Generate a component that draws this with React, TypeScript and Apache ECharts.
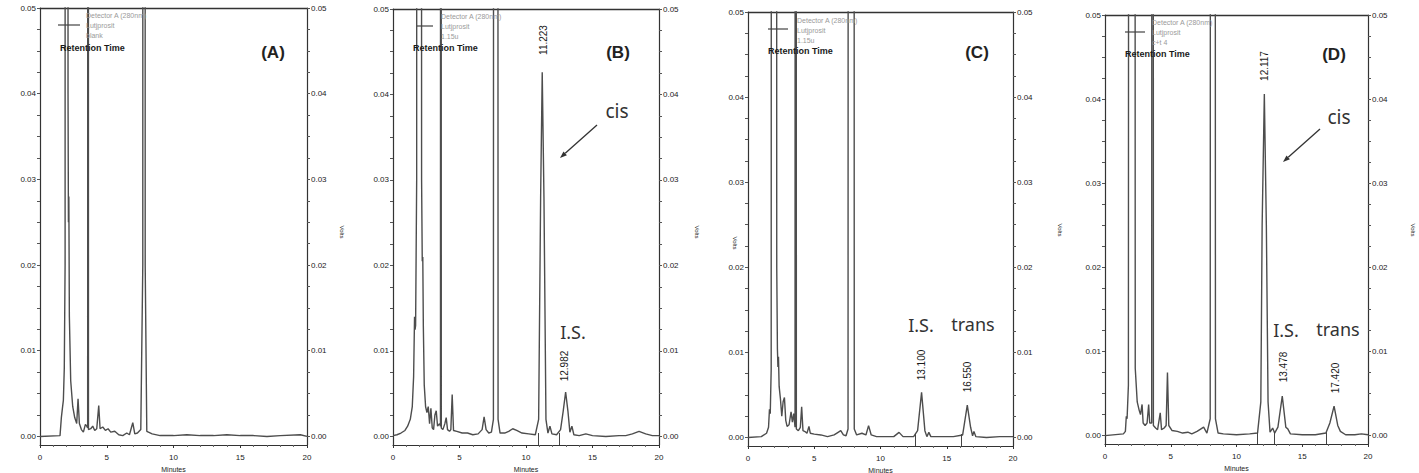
import React, { useEffect, useRef } from "react";
import * as echarts from "echarts";

// ---- axis ticks ----
const xTickStep = 5;
const yLabelValues = [0, 0.01, 0.02, 0.03, 0.04, 0.05];
const yTickValues = [
  0, 0.0025, 0.005, 0.0075, 0.01, 0.0125, 0.015, 0.0175, 0.02, 0.0225, 0.025,
  0.0275, 0.03, 0.0325, 0.035, 0.0375, 0.04, 0.0425, 0.045, 0.0475, 0.05,
];

// ---- chromatogram A (blank) ----
const timeA = [0, 1.5, 1.6, 1.68, 1.75, 1.82, 1.88, 1.9, 2.05, 2.1, 2.13, 2.16, 2.2, 2.3, 2.45, 2.6, 2.75, 2.85, 2.95, 3.1, 3.25, 3.4, 3.5, 3.57, 3.6, 3.63, 3.8, 3.95, 4.1, 4.25, 4.4, 4.5, 4.7, 4.9, 5.1, 5.3, 5.6, 5.9, 6.2, 6.5, 6.7, 6.95, 7.1, 7.3, 7.55, 7.7, 7.73, 7.85, 7.88, 8.0, 8.4, 9, 10, 11, 12, 13, 14, 15, 16, 17, 18, 19.5, 20];
const voltsA = [0, 0.0001, 0.0022, 0.0033, 0.0042, 0.008, 0.02, 0.5, 0.5, 0.04, 0.025, 0.028, 0.014, 0.0065, 0.0035, 0.0022, 0.0015, 0.0044, 0.0015, 0.0008, 0.0005, 0.0014, 0.0012, 0.001, 0.5, 0.0008, 0.0009, 0.0012, 0.0007, 0.0009, 0.0036, 0.0009, 0.0011, 0.0007, 0.0009, 0.0005, 0.0006, 0.0002, 0.0001, 0.0004, 0.0002, 0.0016, 0.0003, 0.0004, 0.0008, 0.02, 0.5, 0.5, 0.02, 0.0006, 0.0003, 0.0001, 0.0001, 0.0002, 0.0001, 0.0001, 0.0002, 0.0001, 0.0001, 0, 0.0001, 0.0002, 0];

// ---- chromatogram B ----
const timeB = [0, 0.3, 0.6, 0.9, 1.1, 1.3, 1.45, 1.55, 1.62, 1.66, 1.7, 1.78, 1.82, 2.08, 2.15, 2.2, 2.24, 2.28, 2.35, 2.45, 2.55, 2.65, 2.75, 2.85, 2.95, 3.05, 3.15, 3.25, 3.35, 3.5, 3.57, 3.6, 3.63, 3.75, 3.9, 4.0, 4.1, 4.25, 4.35, 4.45, 4.55, 4.8, 5.2, 5.6, 6.0, 6.4, 6.7, 6.85, 7.0, 7.2, 7.4, 7.55, 7.62, 7.82, 7.9, 8.05, 8.4, 8.7, 9.0, 9.3, 9.7, 10.2, 10.7, 10.95, 11.1, 11.22, 11.35, 11.5, 11.65, 11.8, 11.95, 12.3, 12.6, 12.8, 12.98, 13.15, 13.3, 13.45, 13.6, 14.0, 14.5, 15, 16, 17, 17.5, 18, 18.5, 19, 19.5, 20];
const voltsB = [0.0001, 0.0002, 0.0004, 0.0007, 0.0012, 0.002, 0.0035, 0.007, 0.014, 0.0125, 0.013, 0.03, 0.5, 0.5, 0.03, 0.0205, 0.021, 0.013, 0.006, 0.0035, 0.0028, 0.0035, 0.0015, 0.0033, 0.001, 0.0008, 0.0025, 0.003, 0.0012, 0.0015, 0.0012, 0.5, 0.001, 0.0008, 0.0015, 0.0022, 0.0008, 0.0006, 0.0008, 0.0049, 0.0007, 0.0006, 0.0004, 0.0004, 0.0002, 0.0003, 0.0008, 0.0023, 0.0008, 0.0004, 0.0005, 0.002, 0.5, 0.5, 0.002, 0.0004, 0.0004, 0.0006, 0.0009, 0.0007, 0.0004, 0.0003, 0.0002, 0.002, 0.028, 0.0426, 0.028, 0.002, 0.0004, 0.0012, 0.0003, 0.0002, 0.0008, 0.003, 0.0052, 0.003, 0.0005, 0.0012, 0.0002, 0.0001, 0.0003, 0.0001, 0, 0.0001, 0.0001, 0.0003, 0.0006, 0.0003, 0.0001, 0.0001];

// ---- chromatogram C ----
const timeC = [0, 1.0, 1.4, 1.55, 1.62, 1.68, 1.75, 1.82, 2.1, 2.17, 2.22, 2.26, 2.3, 2.35, 2.45, 2.55, 2.65, 2.75, 2.85, 2.95, 3.1, 3.25, 3.35, 3.45, 3.55, 3.6, 3.65, 3.8, 3.95, 4.05, 4.15, 4.3, 4.45, 4.6, 4.7, 5.0, 5.5, 6.0, 6.5, 6.8, 7.0, 7.2, 7.4, 7.55, 7.62, 7.95, 8.02, 8.2, 8.6, 8.9, 9.1, 9.3, 9.7, 10.5, 11.0, 11.4, 11.7, 12.5, 12.8, 13.1, 13.35, 13.5, 13.65, 13.8, 14.5, 15.5, 16.2, 16.55, 16.8, 16.95, 17.05, 17.2, 18, 19, 20];
const voltsC = [0, 0.0001, 0.0005, 0.0012, 0.0033, 0.0028, 0.008, 0.5, 0.5, 0.02, 0.0104, 0.0083, 0.0095, 0.006, 0.0045, 0.0025, 0.0042, 0.0047, 0.002, 0.0013, 0.0015, 0.003, 0.0018, 0.0028, 0.0012, 0.5, 0.001, 0.0008, 0.0012, 0.0036, 0.0008, 0.0007, 0.0005, 0.0013, 0.0005, 0.0004, 0.0003, 0.0001, 0.0003, 0.0006, 0.0008, 0.0003, 0.0002, 0.001, 0.5, 0.5, 0.001, 0.0003, 0.0005, 0.0003, 0.0014, 0.0003, 0.0001, 0.0001, 0.0001, 0.0006, 0.0001, 0.0001, 0.0008, 0.0053, 0.0008, 0.0001, 0.0006, 0.0001, 0.0001, 0.0001, 0.0003, 0.0038, 0.0012, 0.0002, 0.0007, 0.0001, 0, 0.0001, 0.0001];

// ---- chromatogram D ----
const timeD = [0, 1.4, 1.55, 1.62, 1.68, 1.78, 1.88, 2.2, 2.3, 2.45, 2.6, 2.7, 2.82, 2.9, 3.05, 3.2, 3.32, 3.4, 3.55, 3.63, 3.68, 3.85, 4.0, 4.2, 4.3, 4.5, 4.65, 4.75, 4.85, 5.1, 5.5, 5.9, 6.3, 6.6, 7.0, 7.3, 7.5, 7.75, 8.0, 8.1, 8.3, 8.4, 8.6, 9, 10, 11, 11.6, 11.85, 11.95, 12.117, 12.27, 12.4, 12.55, 12.75, 12.9, 13.15, 13.48, 13.75, 13.9, 14.1, 15, 16, 16.8, 17.1, 17.42, 17.7, 17.9, 18.3, 19.0, 19.5, 20];
const voltsD = [0, 0.0002, 0.0005, 0.0023, 0.002, 0.006, 0.5, 0.5, 0.008, 0.004, 0.003, 0.0025, 0.0037, 0.0015, 0.0012, 0.0015, 0.0037, 0.0015, 0.0015, 0.5, 0.0012, 0.0009, 0.0007, 0.0027, 0.0007, 0.0009, 0.0012, 0.0075, 0.0012, 0.0006, 0.0005, 0.0003, 0.0004, 0.0002, 0.0005, 0.0008, 0.001, 0.0003, 0.002, 0.5, 0.5, 0.002, 0.0003, 0.0002, 0.0001, 0.0002, 0.0003, 0.004, 0.025, 0.0406, 0.025, 0.004, 0.0004, 0.0009, 0.0003, 0.001, 0.0047, 0.001, 0.0008, 0.0002, 0.0001, 0.0001, 0.0003, 0.0015, 0.0035, 0.0012, 0.0005, 0.0001, 0.0001, 0.0002, 0.0001];

// ---- integration baseline markers (minutes) ----
const markersA: number[] = [];
const markersB = [10.9, 12.5];
const markersC = [12.6, 16.1];
const markersD = [11.6, 12.9, 16.8];

const panelTimes = [timeA, timeB, timeC, timeD];
const panelVolts = [voltsA, voltsB, voltsC, voltsD];
const panelMarkers = [markersA, markersB, markersC, markersD];
const panelNames = ["(A)", "(B)", "(C)", "(D)"];
const legendLines = [
  ["Detector A (280nm)", "Lutjprosit", "blank"],
  ["Detector A (280nm)", "Lutjprosit", "1.15u"],
  ["Detector A (280nm)", "Lutjprosit", "1.15u"],
  ["Detector A (280nm)", "Lutjprosit", "c+t 4"],
];
const peakLabelsB = ["11.223", "12.982"];
const peakLabelsC = ["13.100", "16.550"];
const peakLabelsD = ["12.117", "13.478", "17.420"];

// ---- layout (pixels) ----
const grids = [
  { left: 40, top: 8, width: 267, height: 437 },
  { left: 393, top: 9, width: 266, height: 436 },
  { left: 748, top: 12, width: 265, height: 434 },
  { left: 1105, top: 15, width: 263, height: 429 },
];
const legendPos = [
  { lx1: 58, lx2: 80, ly: 25, tx: 86, ty: 15, rx: 60, ry: 48, nx: 273, ny: 52, vx: 342, vy: 232 },
  { lx1: 417, lx2: 433, ly: 26, tx: 441, ty: 16, rx: 413, ry: 48, nx: 618, ny: 52, vx: 697, vy: 232 },
  { lx1: 768, lx2: 788, ly: 29, tx: 797, ty: 20, rx: 768, ry: 51, nx: 977, ny: 52, vx: 1060, vy: 230 },
  { lx1: 1125, lx2: 1145, ly: 32, tx: 1152, ty: 22, rx: 1125, ry: 54, nx: 1334, ny: 54, vx: 1413, vy: 230 },
];

const AXIS_COLOR = "#333";
const LINE_COLOR = "#4d4d4d";
const TXT = "#1a1a1a";
const FONT = "Liberation Sans, Arial, sans-serif";

function arrow(x1: number, y1: number, x2: number, y2: number): any[] {
  const dx = x2 - x1;
  const dy = y2 - y1;
  const len = Math.sqrt(dx * dx + dy * dy);
  const ux = dx / len;
  const uy = dy / len;
  const bx = x2 - ux * 7;
  const by = y2 - uy * 7;
  const px = -uy * 2.6;
  const py = ux * 2.6;
  return [
    { type: "line", shape: { x1, y1, x2: bx, y2: by }, style: { stroke: "#333", lineWidth: 1.4 }, z: 10 },
    {
      type: "polygon",
      shape: { points: [[x2, y2], [bx + px, by + py], [bx - px, by - py]] },
      style: { fill: "#333" },
      z: 10,
    },
  ];
}

function rotText(text: string, x: number, y: number, size = 10): any {
  return {
    type: "text",
    x,
    y,
    rotation: Math.PI / 2,
    style: { text, fill: TXT, fontSize: size, fontFamily: FONT, align: "center", verticalAlign: "middle" },
    z: 10,
  };
}

function bigText(text: string, x: number, y: number, size = 18): any {
  return {
    type: "text",
    x,
    y,
    style: { text, fill: "#333", fontSize: size, fontFamily: "Noto Sans, sans-serif", align: "center", verticalAlign: "middle" },
    z: 10,
  };
}

export default function App() {
  const ref = useRef<HTMLDivElement>(null);

  useEffect(() => {
    if (!ref.current) return;
    const chart = echarts.init(ref.current, null, { renderer: "svg" });

    const xAxes: any[] = [];
    const yAxes: any[] = [];
    const series: any[] = [];
    const gridOpts: any[] = [];

    grids.forEach((g, i) => {
      gridOpts.push({ ...g, containLabel: false, outerBoundsMode: "none" });
      xAxes.push({
        type: "value",
        gridIndex: i,
        position: "bottom",
        min: 0,
        max: 20,
        interval: xTickStep,
        axisLine: { show: true, onZero: false, lineStyle: { color: AXIS_COLOR, width: 1.2 } },
        axisTick: { show: true, length: 3, lineStyle: { color: AXIS_COLOR } },
        minorTick: { show: true, splitNumber: 5, length: 2, lineStyle: { color: "#666" } },
        axisLabel: { fontSize: 8, color: TXT, margin: 8, fontFamily: FONT },
        splitLine: { show: false },
        name: "Minutes",
        nameLocation: "middle",
        nameGap: 20,
        nameTextStyle: { fontSize: 7, color: TXT, fontFamily: FONT },
      });
      xAxes.push({
        type: "value",
        gridIndex: i,
        position: "top",
        min: 0,
        max: 20,
        axisLine: { show: true, onZero: false, lineStyle: { color: AXIS_COLOR, width: 1.4 } },
        axisTick: { show: false },
        axisLabel: { show: false },
        splitLine: { show: false },
      });
      const yBase = (pos: string) => ({
        type: "value",
        gridIndex: i,
        position: pos,
        min: -0.001,
        max: 0.05,
        axisLine: { show: true, onZero: false, lineStyle: { color: AXIS_COLOR, width: 1.2 } },
        axisTick: { show: true, length: 3, customValues: yTickValues, lineStyle: { color: "#555" } },
        axisLabel: {
          customValues: yLabelValues,
          formatter: (v: number) => v.toFixed(2),
          fontSize: 8,
          color: TXT,
          margin: 4,
          fontFamily: FONT,
        },
        splitLine: { show: false },
      });
      yAxes.push(yBase("left"));
      yAxes.push(yBase("right"));
      const t = panelTimes[i];
      const v = panelVolts[i];
      series.push({
        type: "line",
        xAxisIndex: 2 * i,
        yAxisIndex: 2 * i,
        data: t.map((x, k) => [x, v[k]]),
        showSymbol: false,
        symbol: "none",
        clip: true,
        lineStyle: { color: LINE_COLOR, width: 1.4 },
        markLine: {
          silent: true,
          symbol: "none",
          label: { show: false },
          lineStyle: { color: "#444", width: 1, type: "solid" },
          data: panelMarkers[i].map((m) => [{ coord: [m, 0.0004] }, { coord: [m, -0.001] }]),
        },
      });
    });

    const graphics: any[] = [];
    legendPos.forEach((p, i) => {
      graphics.push({
        type: "line",
        shape: { x1: p.lx1, y1: p.ly, x2: p.lx2, y2: p.ly },
        style: { stroke: "#444", lineWidth: 1.2 },
        z: 10,
      });
      legendLines[i].forEach((s, k) => {
        graphics.push({
          type: "text",
          x: p.tx,
          y: p.ty + k * 10,
          style: { text: s, fill: "#9a9a9a", fontSize: 7, fontFamily: FONT, verticalAlign: "middle" },
          z: 10,
        });
      });
      graphics.push({
        type: "text",
        x: p.rx,
        y: p.ry,
        style: { text: "Retention Time", fill: TXT, fontSize: 9, fontWeight: "bold", fontFamily: FONT, verticalAlign: "middle" },
        z: 10,
      });
      graphics.push({
        type: "text",
        x: p.nx,
        y: p.ny,
        style: { text: panelNames[i], fill: "#222", fontSize: 17, fontWeight: "bold", fontFamily: FONT, align: "center", verticalAlign: "middle" },
        z: 10,
      });
      graphics.push({
        type: "text",
        x: p.vx,
        y: p.vy,
        rotation: -Math.PI / 2,
        style: { text: "Volts", fill: TXT, fontSize: 6, fontFamily: FONT, align: "center", verticalAlign: "middle" },
        z: 10,
      });
    });
    graphics.push({
      type: "text",
      x: 735,
      y: 243,
      rotation: -Math.PI / 2,
      style: { text: "Volts", fill: TXT, fontSize: 6, fontFamily: FONT, align: "center", verticalAlign: "middle" },
      z: 10,
    });

    // Panel B annotations
    graphics.push(rotText(peakLabelsB[0], 543, 40));
    graphics.push(rotText(peakLabelsB[1], 564, 366));
    graphics.push(bigText("cis", 617, 111, 19));
    graphics.push(bigText("I.S.", 573, 332, 18));
    graphics.push(...arrow(597, 125, 560, 158));
    // Panel C annotations
    graphics.push(rotText(peakLabelsC[0], 921, 365));
    graphics.push(rotText(peakLabelsC[1], 967, 377));
    graphics.push(bigText("I.S.", 921, 325, 18));
    graphics.push(bigText("trans", 973, 324, 18));
    // Panel D annotations
    graphics.push(rotText(peakLabelsD[0], 1264, 66));
    graphics.push(rotText(peakLabelsD[1], 1283, 367));
    graphics.push(rotText(peakLabelsD[2], 1335, 378));
    graphics.push(bigText("cis", 1339, 117, 19));
    graphics.push(bigText("I.S.", 1286, 330, 18));
    graphics.push(bigText("trans", 1338, 329, 18));
    graphics.push(...arrow(1320, 129, 1283, 162));

    chart.setOption({
      animation: false,
      backgroundColor: "#fff",
      grid: gridOpts,
      xAxis: xAxes,
      yAxis: yAxes,
      series,
      graphic: graphics,
    });

    return () => chart.dispose();
  }, []);

  return (
    <div
      ref={ref}
      style={{ position: "absolute", left: 0, top: 0, width: 1419, height: 473, background: "#fff" }}
    />
  );
}
